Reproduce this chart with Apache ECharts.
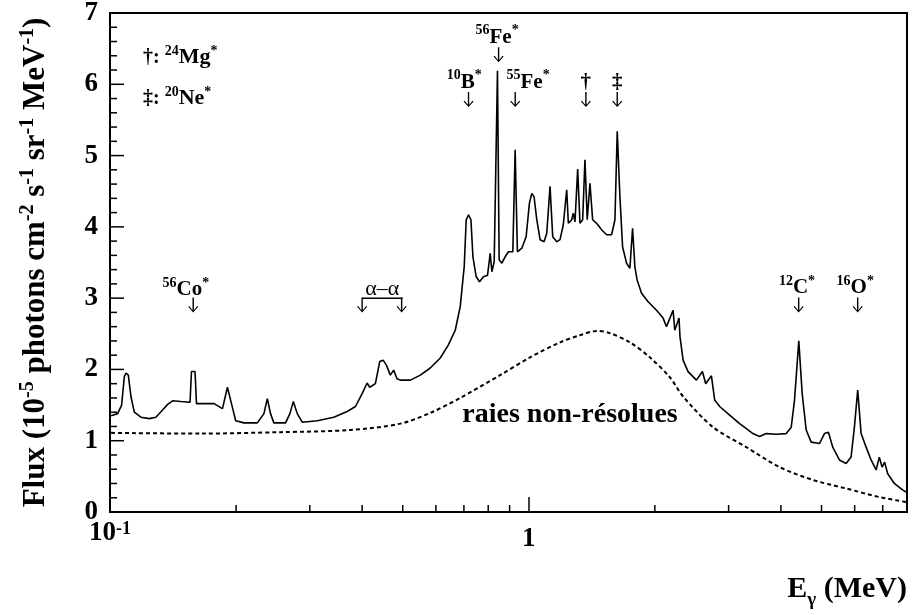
<!DOCTYPE html>
<html>
<head>
<meta charset="utf-8">
<title>Flux gamma</title>
<script src="https://cdn.jsdelivr.net/npm/echarts@6/dist/echarts.min.js"></script>
<style>
  html, body { margin: 0; padding: 0; background: #fff; }
  #chart { width: 914px; height: 615px; }
</style>
</head>
<body>
<div id="chart"></div>
<script>
// spectre total (MeV, 1e-5 ph cm-2 s-1 sr-1 MeV-1)
const energy = [
  0.1006, 0.1043, 0.1066, 0.1082, 0.1092, 0.1106, 0.1122, 0.1143, 0.1185, 0.1241,
  0.1287, 0.1335, 0.1373, 0.1411, 0.1476, 0.1553, 0.1565, 0.1579, 0.1596, 0.1609,
  0.1772, 0.1856, 0.1907, 0.1950, 0.1996, 0.2089, 0.2248, 0.2331, 0.2375, 0.2417,
  0.2462, 0.2626, 0.2689, 0.2740, 0.2800, 0.2877, 0.3125, 0.3423, 0.3684, 0.3856,
  0.4000, 0.4111, 0.4170, 0.4302, 0.4406, 0.4489, 0.4571, 0.4671, 0.4757, 0.4846,
  0.4935, 0.5216, 0.5508, 0.5817, 0.6147, 0.6422, 0.6674, 0.6859, 0.7011, 0.7089,
  0.7180, 0.7275, 0.7356, 0.7489, 0.7626, 0.7795, 0.7969, 0.8088, 0.8163, 0.8268,
  0.8346, 0.8418, 0.8496, 0.8624, 0.8781, 0.8941, 0.9160, 0.9277, 0.9393, 0.9623,
  0.9854, 1.0033, 1.0166, 1.0295, 1.0449, 1.0640, 1.0876, 1.1038, 1.1239, 1.1407,
  1.1660, 1.1874, 1.2090, 1.2318, 1.2429, 1.2661, 1.2772, 1.2891, 1.3084, 1.3249,
  1.3447, 1.3617, 1.3790, 1.3997, 1.4206, 1.4521, 1.4925, 1.5339, 1.5768, 1.6058,
  1.6262, 1.6505, 1.6749, 1.7121, 1.7435, 1.7694, 1.7919, 1.8147, 1.8591, 1.9275,
  2.0184, 2.0926, 2.1321, 2.2108, 2.2317, 2.2838, 2.2962, 2.3358, 2.4005, 2.5135,
  2.5977, 2.6450, 2.7293, 2.7794, 2.8566, 3.0172, 3.1873, 3.3069, 3.4286, 3.5571,
  3.6904, 3.8983, 4.1184, 4.2329, 4.3103, 4.4128, 4.4960, 4.5963, 4.7236, 4.9437,
  5.0812, 5.1937, 5.3183, 5.5163, 5.7236, 5.8827, 5.9906, 6.1007, 6.2160, 6.3890,
  6.5668, 6.7499, 6.8707, 6.9740, 7.0740, 7.1910, 7.4607, 7.8069, 7.9540
];
const flux = [
  1.35, 1.38, 1.50, 1.90, 1.95, 1.92, 1.62, 1.40, 1.33, 1.31,
  1.33, 1.43, 1.51, 1.56, 1.55, 1.54, 1.97, 1.97, 1.97, 1.52,
  1.52, 1.45, 1.75, 1.52, 1.28, 1.25, 1.25, 1.38, 1.59, 1.38,
  1.25, 1.25, 1.38, 1.55, 1.38, 1.26, 1.28, 1.33, 1.41, 1.48,
  1.66, 1.81, 1.75, 1.80, 2.11, 2.13, 2.06, 1.92, 1.99, 1.87,
  1.85, 1.85, 1.92, 2.02, 2.16, 2.34, 2.55, 2.88, 3.44, 4.10,
  4.17, 4.10, 3.58, 3.30, 3.23, 3.30, 3.32, 3.63, 3.37, 3.51,
  3.49, 6.19, 3.54, 3.49, 3.58, 3.65, 3.65, 5.08, 3.65, 3.70,
  3.86, 4.33, 4.47, 4.42, 4.10, 3.82, 3.79, 3.91, 4.57, 3.86,
  3.79, 3.82, 4.03, 4.52, 4.05, 4.10, 4.19, 4.07, 4.81, 4.05,
  4.10, 4.94, 4.10, 4.61, 4.10, 4.05, 3.96, 3.89, 3.89, 4.10,
  5.34, 4.42, 3.72, 3.49, 3.42, 3.98, 3.44, 3.25, 3.07, 2.95,
  2.83, 2.72, 2.60, 2.83, 2.55, 2.72, 2.46, 2.13, 1.97, 1.85,
  1.97, 1.80, 1.91, 1.57, 1.48, 1.36, 1.24, 1.17, 1.10, 1.06,
  1.10, 1.09, 1.10, 1.19, 1.57, 2.40, 1.66, 1.15, 0.98, 0.96,
  1.10, 1.12, 0.91, 0.73, 0.68, 0.77, 1.19, 1.71, 1.10, 0.91,
  0.73, 0.59, 0.77, 0.63, 0.70, 0.54, 0.40, 0.31, 0.28
];

// composante des raies non-résolues
const contEnergy = [
  0.1006, 0.1647, 0.2556, 0.3752, 0.4935, 0.5817, 0.6859, 0.8543, 1.0071, 1.1874,
  1.3249, 1.4544, 1.5617, 1.7435, 1.9454, 2.1712, 2.3358, 2.7541, 3.3069, 3.9697,
  4.7652, 5.7236, 6.8707, 7.9540
];
const contFlux = [
  1.11, 1.10, 1.12, 1.15, 1.24, 1.39, 1.60, 1.92, 2.17, 2.38,
  2.48, 2.54, 2.51, 2.38, 2.17, 1.89, 1.62, 1.19, 0.91, 0.63,
  0.45, 0.33, 0.21, 0.14
];

// axes
const X_MIN = 0.1, X_MAX = 8;
const Y_MIN = 0, Y_MAX = 7;
const xLabelValues = [0.1, 1];
const xLabelText = ['{b|10}{s|-1}', '{c|1}'];
const xMinorTicks = [0.2, 0.3, 0.4, 0.5, 0.6, 0.7, 0.8, 0.9, 2, 3, 4, 5, 6, 7];
const yMajorTicks = [1, 2, 3, 4, 5, 6];
const yMinorTicks = [
  0.2, 0.4, 0.6, 0.8, 1.2, 1.4, 1.6, 1.8, 2.2, 2.4, 2.6, 2.8, 3.2, 3.4,
  3.6, 3.8, 4.2, 4.4, 4.6, 4.8, 5.2, 5.4, 5.6, 5.8, 6.2, 6.4, 6.6, 6.8
];

// identifications des raies
const arrowEnergy = [0.158, 0.400, 0.497, 0.718, 0.847, 0.928, 1.369, 1.626, 4.41, 6.10];
const arrowTip = [2.80, 2.80, 2.80, 5.68, 6.31, 5.68, 5.68, 5.68, 2.80, 2.80];
const noteText = [
  '{sup|56}{el|Co}{sup|*}', '{al|α–α}', '{sup|10}{el|B}{sup|*}', '{sup|56}{el|Fe}{sup|*}',
  '{sup|55}{el|Fe}{sup|*}', '{el|†}', '{el|‡}', '{sup|12}{el|C}{sup|*}', '{sup|16}{el|O}{sup|*}'
];
const noteEnergy = [0.1518, 0.447, 0.701, 0.840, 0.996, 1.367, 1.626, 4.37, 6.02];
const noteLevel = [2.975, 2.975, 5.882, 6.514, 5.882, 5.882, 5.882, 3.003, 3.003];
const bracketEnergy = [0.4, 0.5];
const bracketLevel = [3.0, 3.0];

const FONT = 'Liberation Serif';
const GRID = { left: 110, right: 7, top: 13, bottom: 103 };
// decades counted from the left edge of the axis (0.1 MeV)
const lg = e => Math.log10(e / X_MIN);
const pairs = (xs, ys) => xs.map((x, i) => [lg(x), ys[i]]);
const ARROW = 'path://M4.3,0 L5.7,0 L5.7,13.6 L9,9.2 L10,10 L5,16 L0,10 L1,9.2 L4.3,13.6 Z';
const BLACK_LINE = { show: true, lineStyle: { color: '#000', width: 2 } };

const bold = (size, extra) => Object.assign({
  fontFamily: FONT, fontWeight: 'bold', fontSize: size, color: '#000'
}, extra || {});

const noteRich = {
  sup: bold(14, { lineHeight: 14, padding: [0, 0, 16, 0], verticalAlign: 'top' }),
  el: bold(21, { lineHeight: 24, verticalAlign: 'bottom' }),
  al: { fontFamily: FONT, fontSize: 22, color: '#000', lineHeight: 24, verticalAlign: 'bottom' }
};
const legendRich = {
  sym: bold(20, { lineHeight: 24, verticalAlign: 'bottom' }),
  sup: bold(14, { lineHeight: 14, padding: [0, 0, 16, 0], verticalAlign: 'top' }),
  el: bold(22, { lineHeight: 24, verticalAlign: 'bottom' })
};

const texts = [
  { type: 'text', x: 143, y: 44, silent: true,
    style: { text: '{sym|†: }{sup|24}{el|Mg}{sup|*}', rich: legendRich, align: 'left', verticalAlign: 'top' } },
  { type: 'text', x: 143, y: 85, silent: true,
    style: { text: '{sym|‡: }{sup|20}{el|Ne}{sup|*}', rich: legendRich, align: 'left', verticalAlign: 'top' } },
  { type: 'text', x: 570, y: 415, silent: true,
    style: { text: 'raies non-résolues', fontFamily: FONT, fontWeight: 'bold', fontSize: 28,
      fill: '#000', align: 'center', verticalAlign: 'middle' } },
  { type: 'text', x: 907, y: 574, silent: true,
    style: {
      text: '{e|E}{g|γ}{e| (MeV)}', align: 'right', verticalAlign: 'top',
      rich: {
        e: bold(30, { lineHeight: 32, verticalAlign: 'top' }),
        g: bold(19, { lineHeight: 14, padding: [20, 0, 0, 0] })
      }
    } }
];

const chart = echarts.init(document.getElementById('chart'));
chart.setOption({
  animation: false,
  backgroundColor: '#fff',
  grid: Object.assign({
    show: true, borderColor: '#000', borderWidth: 2,
    outerBoundsMode: 'none'
  }, GRID),
  xAxis: {
    type: 'value', min: lg(X_MIN), max: lg(X_MAX), position: 'bottom',
    axisLine: BLACK_LINE,
    axisTick: { show: true, inside: true, length: 15, lineStyle: { color: '#000', width: 1.5 },
      customValues: xLabelValues.map(lg) },
    axisLabel: {
      show: true, margin: 8, customValues: xLabelValues.map(lg),
      formatter: v => {
        const i = xLabelValues.findIndex(x => Math.abs(lg(x) - v) < 1e-6);
        return i < 0 ? '' : xLabelText[i];
      },
      rich: {
        b: bold(27, { lineHeight: 27, verticalAlign: 'bottom' }),
        s: bold(18, { lineHeight: 18, padding: [0, 0, 20, 0], verticalAlign: 'top' }),
        c: bold(27, { lineHeight: 27, padding: [11, 0, 0, 0] })
      }
    },
    splitLine: { show: false }
  },
  yAxis: {
    type: 'value', min: Y_MIN, max: Y_MAX, interval: 1, position: 'left',
    axisLine: BLACK_LINE,
    axisTick: { show: false },
    axisLabel: bold(27, { margin: 12 }),
    splitLine: { show: false },
    name: '{m|Flux (10}{s|-5}{m| photons cm}{s|-2}{m| s}{s|-1}{m| sr}{s|-1}{m| MeV}{s|-1}{m|)}',
    nameLocation: 'middle',
    nameGap: 59,
    nameTextStyle: {
      rich: {
        m: bold(31, { lineHeight: 33, verticalAlign: 'bottom' }),
        s: bold(20, { lineHeight: 20, padding: [0, 0, 19, 0], verticalAlign: 'top' })
      }
    }
  },
  graphic: texts,
  series: [
    {
      name: 'total', type: 'line', data: pairs(energy, flux),
      symbol: 'none', silent: true,
      lineStyle: { color: '#000', width: 1.6 }
    },
    {
      name: 'raies non-résolues', type: 'line',
      data: pairs(contEnergy, contFlux),
      symbol: 'none', smooth: 0.3, silent: true,
      lineStyle: { color: '#000', width: 2, type: [4, 3] }
    },
    {
      name: 'alpha-alpha', type: 'line', data: pairs(bracketEnergy, bracketLevel),
      symbol: 'none', silent: true,
      lineStyle: { color: '#000', width: 1.5 }
    },
    {
      name: 'fleches', type: 'scatter', data: pairs(arrowEnergy, arrowTip),
      symbol: ARROW, symbolSize: [10, 15], symbolOffset: [0, '-50%'], silent: true,
      itemStyle: { color: '#000', opacity: 1 }
    },
    {
      name: 'raies', type: 'scatter', data: pairs(noteEnergy, noteLevel),
      symbolSize: 0, silent: true,
      itemStyle: { color: '#000', opacity: 1 },
      label: {
        show: true, position: 'top', distance: 0, color: '#000',
        formatter: p => noteText[p.dataIndex],
        rich: noteRich
      }
    }
  ]
});

// ticks on the frame edges: pixel place asked from the axes, with a plain
// linear fallback over the same axis extents if the lookup gives nothing
function axisPx(finder, value, lo, hi, p0, p1) {
  let p;
  try { p = chart.convertToPixel(finder, value); } catch (e) { p = NaN; }
  if (Array.isArray(p)) p = NaN;
  return Number.isFinite(p) ? p : p0 + (value - lo) / (hi - lo) * (p1 - p0);
}
const W = chart.getWidth(), H = chart.getHeight();
const pxX = u => axisPx({ xAxisIndex: 0 }, u, lg(X_MIN), lg(X_MAX), GRID.left, W - GRID.right);
const pxY = v => axisPx({ yAxisIndex: 0 }, v, Y_MIN, Y_MAX, H - GRID.bottom, GRID.top);

const tickLines = [];
const addTick = (x, y, dx, dy) => tickLines.push({
  type: 'line', silent: true, z: 100,
  shape: { x1: x, y1: y, x2: x + dx, y2: y + dy },
  style: { stroke: '#000', lineWidth: 1.5 }
});
const x0 = pxX(lg(X_MIN)), y0 = pxY(Y_MIN);
yMajorTicks.forEach(v => addTick(x0, pxY(v), 14, 0));
yMinorTicks.forEach(v => addTick(x0, pxY(v), 7, 0));
xMinorTicks.forEach(e => addTick(pxX(lg(e)), y0, 0, -7));
chart.setOption({ graphic: texts.concat(tickLines) });
</script>
</body>
</html>
